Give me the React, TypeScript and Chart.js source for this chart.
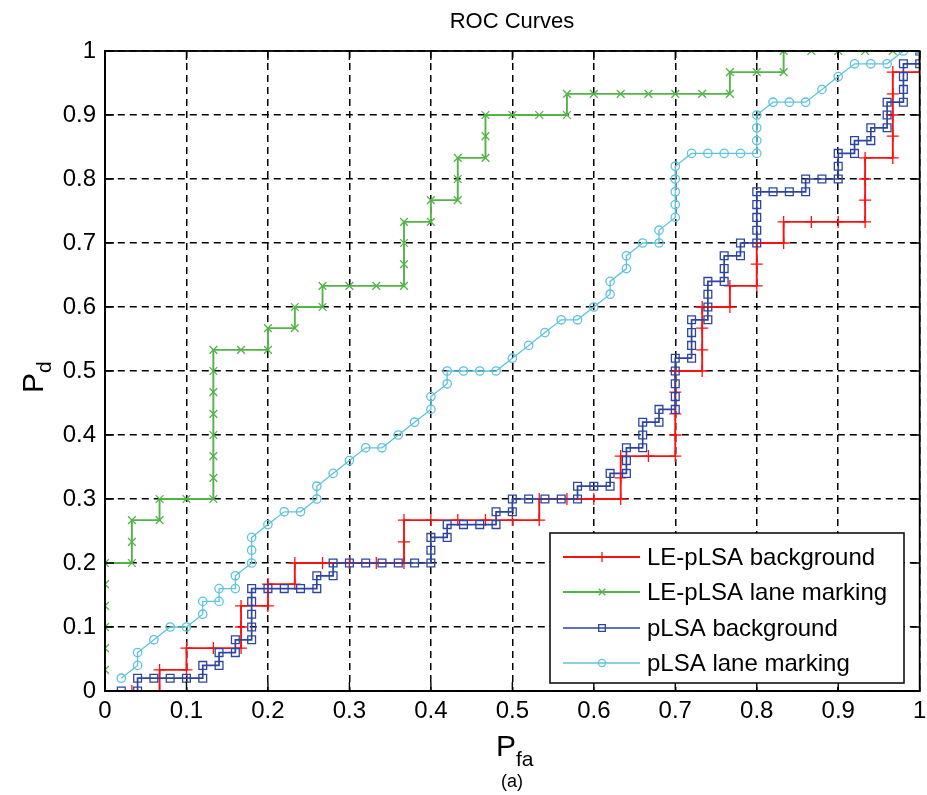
import React, { useEffect, useRef } from 'react';
import { Chart, registerables } from 'chart.js';

Chart.register(...registerables);

// ---------- data ----------
const chartTitle = 'ROC Curves';
const xTickValues = [0, 0.1, 0.2, 0.3, 0.4, 0.5, 0.6, 0.7, 0.8, 0.9, 1];
const xTickLabels = ['0', '0.1', '0.2', '0.3', '0.4', '0.5', '0.6', '0.7', '0.8', '0.9', '1'];
const yTickLabels = ['0', '0.1', '0.2', '0.3', '0.4', '0.5', '0.6', '0.7', '0.8', '0.9', '1'];
const seriesNames = ['LE-pLSA background', 'LE-pLSA lane marking', 'pLSA background', 'pLSA lane marking'];

// [Pfa, Pd] points
const lePlsaBackground = [
  [0.033, 0], [0.067, 0], [0.067, 0.033], [0.1, 0.033], [0.1, 0.067], [0.133, 0.067], [0.167, 0.067],
  [0.167, 0.1], [0.167, 0.133], [0.2, 0.133], [0.2, 0.167], [0.233, 0.167], [0.233, 0.2], [0.267, 0.2],
  [0.3, 0.2], [0.333, 0.2], [0.367, 0.2], [0.367, 0.233], [0.367, 0.267], [0.4, 0.267], [0.433, 0.267],
  [0.467, 0.267], [0.5, 0.267], [0.533, 0.267], [0.533, 0.3], [0.567, 0.3], [0.6, 0.3], [0.633, 0.3],
  [0.633, 0.333], [0.633, 0.367], [0.667, 0.367], [0.7, 0.367], [0.7, 0.4], [0.7, 0.433], [0.7, 0.467],
  [0.7, 0.5], [0.733, 0.5], [0.733, 0.533], [0.733, 0.567], [0.733, 0.6], [0.767, 0.6], [0.767, 0.633],
  [0.8, 0.633], [0.8, 0.667], [0.8, 0.7], [0.833, 0.7], [0.833, 0.733], [0.867, 0.733], [0.9, 0.733],
  [0.933, 0.733], [0.933, 0.767], [0.933, 0.8], [0.933, 0.833], [0.967, 0.833], [0.967, 0.867],
  [0.967, 0.9], [0.967, 0.933], [0.967, 0.967], [1, 0.967], [1, 1],
];

const lePlsaLaneMarking = [
  [0, 0.033], [0, 0.067], [0, 0.1], [0, 0.133], [0, 0.167], [0, 0.2], [0.033, 0.2], [0.033, 0.233],
  [0.033, 0.267], [0.067, 0.267], [0.067, 0.3], [0.1, 0.3], [0.133, 0.3], [0.133, 0.333], [0.133, 0.367],
  [0.133, 0.4], [0.133, 0.433], [0.133, 0.467], [0.133, 0.5], [0.133, 0.533], [0.167, 0.533], [0.2, 0.533],
  [0.2, 0.567], [0.233, 0.567], [0.233, 0.6], [0.267, 0.6], [0.267, 0.633], [0.3, 0.633], [0.333, 0.633],
  [0.367, 0.633], [0.367, 0.667], [0.367, 0.7], [0.367, 0.733], [0.4, 0.733], [0.4, 0.767], [0.433, 0.767],
  [0.433, 0.8], [0.433, 0.833], [0.467, 0.833], [0.467, 0.867], [0.467, 0.9], [0.5, 0.9], [0.533, 0.9],
  [0.567, 0.9], [0.567, 0.933], [0.6, 0.933], [0.633, 0.933], [0.667, 0.933], [0.7, 0.933], [0.733, 0.933],
  [0.767, 0.933], [0.767, 0.967], [0.8, 0.967], [0.833, 0.967], [0.833, 1], [0.867, 1], [0.9, 1],
  [0.933, 1], [0.967, 1], [1, 1],
];

const plsaBackground = [
  [0.02, 0], [0.04, 0], [0.04, 0.02], [0.06, 0.02], [0.08, 0.02], [0.1, 0.02], [0.12, 0.02], [0.12, 0.04],
  [0.14, 0.04], [0.14, 0.06], [0.16, 0.06], [0.16, 0.08], [0.18, 0.08], [0.18, 0.1], [0.18, 0.12],
  [0.18, 0.14], [0.18, 0.16], [0.2, 0.16], [0.22, 0.16], [0.24, 0.16], [0.26, 0.16], [0.26, 0.18],
  [0.28, 0.18], [0.28, 0.2], [0.3, 0.2], [0.32, 0.2], [0.34, 0.2], [0.36, 0.2], [0.38, 0.2], [0.4, 0.2],
  [0.4, 0.22], [0.4, 0.24], [0.42, 0.24], [0.42, 0.26], [0.44, 0.26], [0.46, 0.26], [0.48, 0.26],
  [0.48, 0.28], [0.5, 0.28], [0.5, 0.3], [0.52, 0.3], [0.54, 0.3], [0.56, 0.3], [0.58, 0.3], [0.58, 0.32],
  [0.6, 0.32], [0.62, 0.32], [0.62, 0.34], [0.64, 0.34], [0.64, 0.36], [0.64, 0.38], [0.66, 0.38],
  [0.66, 0.4], [0.66, 0.42], [0.68, 0.42], [0.68, 0.44], [0.7, 0.44], [0.7, 0.46], [0.7, 0.48], [0.7, 0.5],
  [0.7, 0.52], [0.72, 0.52], [0.72, 0.54], [0.72, 0.56], [0.72, 0.58], [0.74, 0.58], [0.74, 0.6],
  [0.74, 0.62], [0.74, 0.64], [0.76, 0.64], [0.76, 0.66], [0.76, 0.68], [0.78, 0.68], [0.78, 0.7],
  [0.8, 0.7], [0.8, 0.72], [0.8, 0.74], [0.8, 0.76], [0.8, 0.78], [0.82, 0.78], [0.84, 0.78], [0.86, 0.78],
  [0.86, 0.8], [0.88, 0.8], [0.9, 0.8], [0.9, 0.82], [0.9, 0.84], [0.92, 0.84], [0.92, 0.86], [0.94, 0.86],
  [0.94, 0.88], [0.96, 0.88], [0.96, 0.9], [0.96, 0.92], [0.98, 0.92], [0.98, 0.94], [0.98, 0.96],
  [0.98, 0.98], [1, 0.98], [1, 1],
];

const plsaLaneMarking = [
  [0.02, 0.02], [0.04, 0.04], [0.04, 0.06], [0.06, 0.08], [0.08, 0.1], [0.1, 0.1], [0.12, 0.12],
  [0.12, 0.14], [0.14, 0.14], [0.14, 0.16], [0.16, 0.16], [0.16, 0.18], [0.18, 0.2], [0.18, 0.22],
  [0.18, 0.24], [0.2, 0.26], [0.22, 0.28], [0.24, 0.28], [0.26, 0.3], [0.26, 0.32], [0.28, 0.34],
  [0.3, 0.36], [0.32, 0.38], [0.34, 0.38], [0.36, 0.4], [0.38, 0.42], [0.4, 0.44], [0.4, 0.46],
  [0.42, 0.48], [0.42, 0.5], [0.44, 0.5], [0.46, 0.5], [0.48, 0.5], [0.5, 0.52], [0.52, 0.54],
  [0.54, 0.56], [0.56, 0.58], [0.58, 0.58], [0.6, 0.6], [0.62, 0.62], [0.62, 0.64], [0.64, 0.66],
  [0.64, 0.68], [0.66, 0.7], [0.68, 0.7], [0.68, 0.72], [0.7, 0.74], [0.7, 0.76], [0.7, 0.78], [0.7, 0.8],
  [0.7, 0.82], [0.72, 0.84], [0.74, 0.84], [0.76, 0.84], [0.78, 0.84], [0.8, 0.84], [0.8, 0.86],
  [0.8, 0.88], [0.8, 0.9], [0.82, 0.92], [0.84, 0.92], [0.86, 0.92], [0.88, 0.94], [0.9, 0.96],
  [0.92, 0.98], [0.94, 0.98], [0.96, 0.98], [0.98, 1], [1, 1],
];

// ---------- styling ----------
const FONT = "'Liberation Sans', Arial, Helvetica, sans-serif";
const COLORS = ['#ff1010', '#52b447', '#2d45a0', '#5ec3dc'];
const STYLES = ['cross', 'crossRot', 'rect', 'circle'];
const RADII = [6, 5.5, 5.5, 4.2];
const WIDTHS = [1.9, 1.9, 1.7, 1.3];

const toXY = (pts: number[][]) => pts.map(([x, y]) => ({ x, y }));

function drawMarker(ctx: CanvasRenderingContext2D, style: string, x: number, y: number, r: number) {
  ctx.beginPath();
  if (style === 'cross') {
    ctx.moveTo(x - r, y); ctx.lineTo(x + r, y);
    ctx.moveTo(x, y - r); ctx.lineTo(x, y + r);
  } else if (style === 'crossRot') {
    const d = r * Math.SQRT1_2;
    ctx.moveTo(x - d, y - d); ctx.lineTo(x + d, y + d);
    ctx.moveTo(x - d, y + d); ctx.lineTo(x + d, y - d);
  } else if (style === 'rect') {
    const s = r * Math.SQRT1_2;
    ctx.rect(x - s, y - s, 2 * s, 2 * s);
  } else {
    ctx.arc(x, y, r, 0, Math.PI * 2);
  }
  ctx.stroke();
}

const decorPlugin = {
  id: 'decor',
  afterDraw(chart: any) {
    const ctx: CanvasRenderingContext2D = chart.ctx;
    const { left, right, top, bottom } = chart.chartArea;
    const xs = chart.scales.x;
    const ys = chart.scales.y;
    ctx.save();
    // box + inward ticks
    ctx.strokeStyle = '#000';
    ctx.lineWidth = 1.8;
    ctx.setLineDash([]);
    ctx.strokeRect(left, top, right - left, bottom - top);
    ctx.lineWidth = 1.4;
    const tl = 9;
    xTickValues.forEach((v) => {
      const px = xs.getPixelForValue(v);
      ctx.beginPath();
      ctx.moveTo(px, bottom); ctx.lineTo(px, bottom - tl);
      ctx.moveTo(px, top); ctx.lineTo(px, top + tl);
      ctx.stroke();
      const py = ys.getPixelForValue(v);
      ctx.beginPath();
      ctx.moveTo(left, py); ctx.lineTo(left + tl, py);
      ctx.moveTo(right, py); ctx.lineTo(right - tl, py);
      ctx.stroke();
    });

    // legend
    const lx = 550, ly = 533, lw = 354, lh = 150;
    ctx.fillStyle = '#fff';
    ctx.fillRect(lx, ly, lw, lh);
    ctx.strokeStyle = '#000';
    ctx.lineWidth = 1.5;
    ctx.strokeRect(lx, ly, lw, lh);
    const rowY = [557, 592, 628, 663];
    seriesNames.forEach((name, i) => {
      const y = rowY[i];
      ctx.strokeStyle = COLORS[i];
      ctx.lineWidth = WIDTHS[i];
      ctx.beginPath();
      ctx.moveTo(563, y); ctx.lineTo(640, y);
      ctx.stroke();
      ctx.lineWidth = 1.3;
      drawMarker(ctx, STYLES[i], 602, y, RADII[i] * 0.85);
      ctx.fillStyle = '#000';
      ctx.font = `24px ${FONT}`;
      ctx.textAlign = 'left';
      ctx.textBaseline = 'middle';
      ctx.fillText(name, 647, y + 1);
    });

    // title
    ctx.fillStyle = '#000';
    ctx.font = `22px ${FONT}`;
    ctx.textAlign = 'center';
    ctx.textBaseline = 'middle';
    ctx.fillText(chartTitle, 512, 22);

    // x axis label P_fa
    ctx.font = `30px ${FONT}`;
    ctx.textAlign = 'right';
    ctx.textBaseline = 'alphabetic';
    ctx.fillText('P', 516, 756);
    ctx.font = `21px ${FONT}`;
    ctx.textAlign = 'left';
    ctx.fillText('fa', 516, 766);

    // (a)
    ctx.font = `18px ${FONT}`;
    ctx.textAlign = 'center';
    ctx.fillText('(a)', 512, 787);

    // y axis label P_d (rotated)
    ctx.translate(43, 381);
    ctx.rotate(-Math.PI / 2);
    ctx.font = `30px ${FONT}`;
    ctx.textAlign = 'right';
    ctx.textBaseline = 'alphabetic';
    ctx.fillText('P', 8, 0);
    ctx.font = `21px ${FONT}`;
    ctx.textAlign = 'left';
    ctx.fillText('d', 8, 8);
    ctx.restore();
  },
};

export default function App() {
  const ref = useRef<HTMLCanvasElement>(null);
  useEffect(() => {
    const sets = [lePlsaBackground, lePlsaLaneMarking, plsaBackground, plsaLaneMarking];
    const chart = new Chart(ref.current as HTMLCanvasElement, {
      type: 'line',
      data: {
        datasets: sets.map((pts, i) => ({
          label: seriesNames[i],
          data: toXY(pts),
          borderColor: COLORS[i],
          backgroundColor: 'rgba(0,0,0,0)',
          borderWidth: WIDTHS[i],
          pointStyle: STYLES[i] as any,
          pointRadius: RADII[i],
          pointBorderWidth: 1.3,
          pointBorderColor: COLORS[i],
          pointBackgroundColor: 'rgba(0,0,0,0)',
          tension: 0,
          fill: false,
          order: 4 - i,
        })),
      },
      options: {
        responsive: false,
        animation: false,
        devicePixelRatio: 1,
        events: [],
        layout: { padding: { top: 51, right: 5, left: 0, bottom: 0 } },
        plugins: {
          legend: { display: false },
          title: { display: false },
          tooltip: { enabled: false },
        },
        scales: {
          x: {
            type: 'linear',
            min: 0,
            max: 1,
            ticks: {
              stepSize: 0.1,
              autoSkip: false,
              maxRotation: 0,
              color: '#000',
              padding: 6,
              font: { family: FONT, size: 24 },
              callback: (v: any) => xTickLabels[Math.round(Number(v) * 10)],
            },
            grid: { color: '#000', lineWidth: 1.5, drawTicks: false },
            border: { display: true, color: '#000', width: 1.8, dash: [7, 5] },
            afterFit: (s: any) => { s.height = 104; s.paddingLeft = 0; s.paddingRight = 0; },
          },
          y: {
            type: 'linear',
            min: 0,
            max: 1,
            ticks: {
              stepSize: 0.1,
              autoSkip: false,
              color: '#000',
              padding: 9,
              font: { family: FONT, size: 24 },
              callback: (v: any) => yTickLabels[Math.round(Number(v) * 10)],
            },
            grid: { color: '#000', lineWidth: 1.5, drawTicks: false },
            border: { display: true, color: '#000', width: 1.8, dash: [7, 5] },
            afterFit: (s: any) => { s.width = 105; s.paddingTop = 0; s.paddingBottom = 0; },
          },
        },
      } as any,
      plugins: [decorPlugin],
    });
    return () => chart.destroy();
  }, []);
  return (
    <div style={{ position: 'absolute', left: 0, top: 0, width: 927, height: 795, background: '#fff' }}>
      <canvas ref={ref} width={927} height={795} style={{ display: 'block', width: 927, height: 795 }} />
    </div>
  );
}
